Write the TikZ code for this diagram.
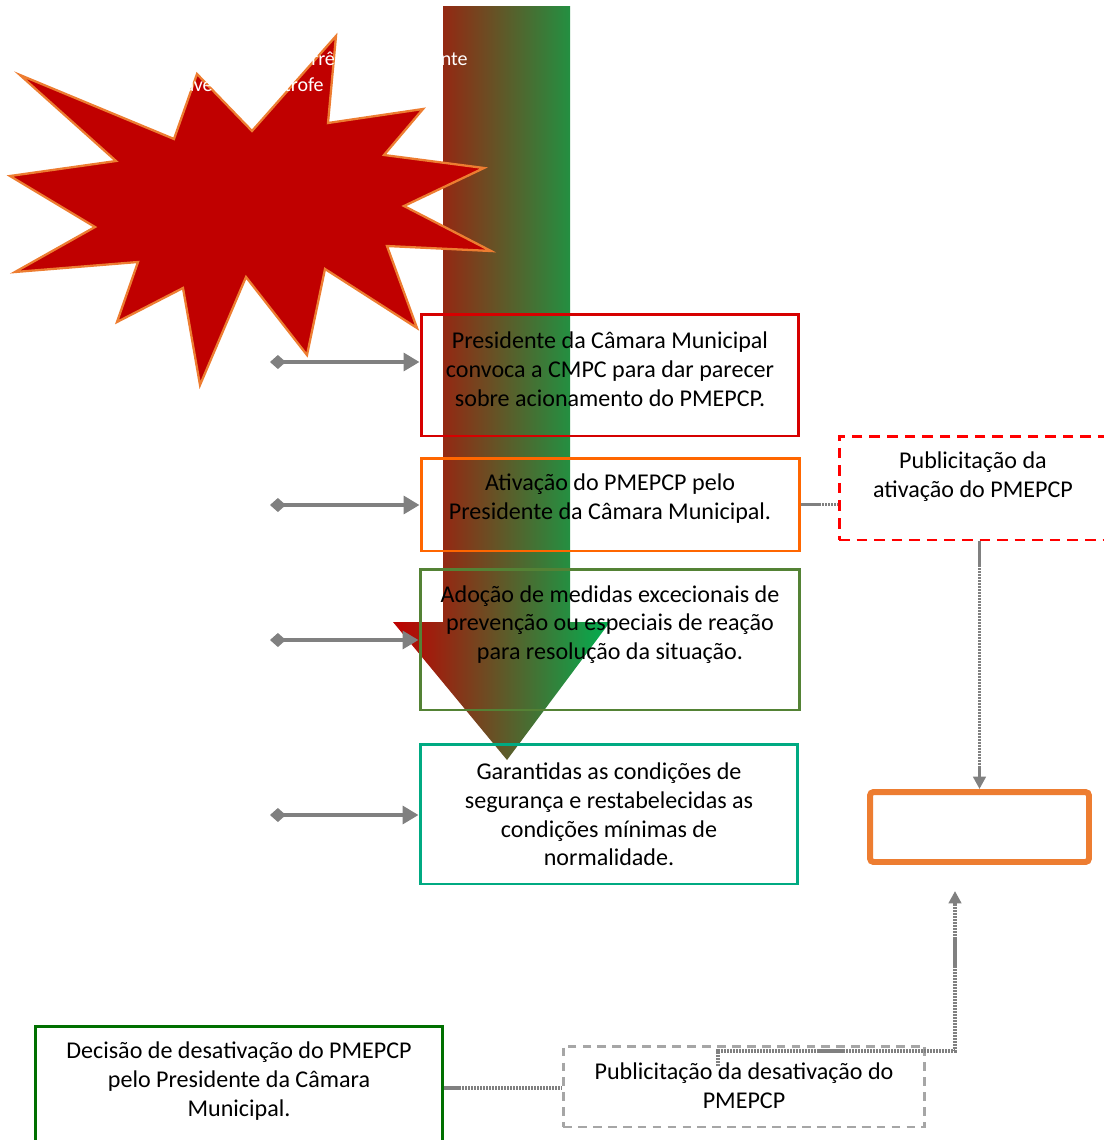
\documentclass[tikz,border=0pt]{standalone}
\usepackage{fontspec}
\setmainfont{Carlito}
\usetikzlibrary{arrows.meta,shadows}

\definecolor{burstred}{RGB}{192,0,0}
\definecolor{burstedge}{RGB}{237,125,49}
\definecolor{flowred}{RGB}{192,0,0}
\definecolor{flowgreen}{RGB}{0,176,80}
\definecolor{cmpcred}{RGB}{214,0,0}
\definecolor{actorange}{RGB}{255,102,0}
\definecolor{measgreen}{RGB}{84,130,53}
\definecolor{safeteal}{RGB}{0,170,130}
\definecolor{pubred}{RGB}{255,0,0}
\definecolor{endorange}{RGB}{237,125,49}
\definecolor{decgreen}{RGB}{0,112,0}
\definecolor{pubgray}{RGB}{166,166,166}
\definecolor{linkgray}{RGB}{128,128,128}

\begin{document}
\begin{tikzpicture}[x=0.02cm, y=-0.02cm,
  stage/.style={draw, line width=1.7pt, inner sep=0pt},
  txt/.style={align=center, font=\fontsize{13.7}{16.4}\selectfont, inner sep=0pt},
  feed/.style={draw=linkgray, line width=2.4pt, {Diamond[length=9pt,width=8pt]}-{Triangle[length=9pt,width=10pt]}},
  link/.style={draw=linkgray, line width=2pt, dash pattern=on 1.2pt off 0.5pt}]
  \useasboundingbox (0,0) rectangle (1103,1140);

  % big arrow from red to green
  \shade[left color=flowred, right color=flowgreen]
    (443,6) -- (570,6) -- (570,622) -- (610,622) -- (507,760) -- (393,622) -- (443,622) -- cycle;

  % stages
  \node[stage, draw=cmpcred, minimum width=7.56cm, minimum height=2.44cm] (cmpc) at (610,375) {};
  \node[txt] at (610,369) {Presidente da Câmara Municipal\\convoca a CMPC para dar parecer\\sobre acionamento do PMEPCP.};
  \node[stage, draw=actorange, minimum width=7.58cm, minimum height=1.86cm] (act) at (610.5,504.5) {};
  \node[txt] at (610,498.5) {Ativação do PMEPCP pelo\\Presidente da Câmara Municipal.};
  \node[stage, draw=measgreen, minimum width=7.6cm, minimum height=2.82cm] (meas) at (610,639.5) {};
  \node[txt] at (610,624.5) {Adoção de medidas excecionais de\\prevenção ou especiais de reação\\para resolução da situação.};
  \node[stage, draw=safeteal, minimum width=7.56cm, minimum height=2.8cm] (safe) at (609,814) {};
  \node[txt] at (609,814.5) {Garantidas as condições de\\segurança e restabelecidas as\\condições mínimas de\\normalidade.};

  % publicitation and end
  \node[stage, draw=pubred, dash pattern=on 6pt off 4pt, minimum width=5.52cm, minimum height=2.08cm] (pubact) at (977,488) {};
  \node[txt] at (973,476.5) {Publicitação da\\ativação do PMEPCP};
  \node[stage, draw=endorange, line width=3.4pt, rounded corners=2pt, fill=white,
    drop shadow={shadow xshift=0pt, shadow yshift=-1.6pt, fill=gray!70, opacity=0.7},
    minimum width=4.38cm, minimum height=1.4cm] (endbox) at (979.5,827) {};
  \node[stage, draw=decgreen, minimum width=8.16cm, minimum height=2.48cm] (dec) at (239,1088) {};
  \node[txt] at (239,1081) {Decisão de desativação do PMEPCP\\pelo Presidente da Câmara\\Municipal.};
  \node[stage, draw=pubgray, dash pattern=on 5pt off 3.5pt, minimum width=7.24cm, minimum height=1.62cm] (pubdes) at (744,1086.5) {};
  \node[txt] at (744,1086) {Publicitação da desativação do\\PMEPCP};

  % side arrows
  \coordinate (f1) at (270,362);
  \coordinate (f2) at (270,505);
  \coordinate (f3) at (270,640);
  \coordinate (f4) at (270,815);
  \draw[feed] (f1) -- (f1 -| cmpc.west);
  \draw[feed] (f2) -- (f2 -| act.west);
  \draw[feed] (f3) -- (f3 -| meas.west);
  \draw[feed] (f4) -- (f4 -| safe.west);

  % dotted links
  \draw[link] (act.east) -- (act.east -| pubact.west);
  \draw[link, -{Triangle[length=7pt,width=7pt]}] (endbox.north |- pubact.south) -- (endbox.north);
  \draw[link] (dec.east) -- (dec.east -| pubdes.west);
  \coordinate (pd) at (718,1066);
  \coordinate (turn) at (955,1051);
  \coordinate (up) at (955,891);
  \draw[link, -{Triangle[length=7pt,width=7pt]}] (pd) |- (turn) -- (up);

  % starburst
  \draw[fill=burstred, draw=burstedge, line width=1.3pt, line join=miter]
    (20,75) -- (174,139) -- (197,74) -- (252,131) -- (336,36) -- (328,123)
    -- (423,109) -- (384,155) -- (484,168) -- (404,206) -- (491,251) -- (387,246)
    -- (417,328) -- (325,269) -- (307,355) -- (246,277) -- (200,385) -- (183,288)
    -- (117,322) -- (138,262) -- (15,272) -- (95,227) -- (10,176) -- (116,161) -- cycle;
  \node[txt, text=white, font=\fontsize{11.4}{14.7}\selectfont] (event) at (261,73)
    {Ocorrência ou iminência de ocorrência de acidente\\grave ou catástrofe\hspace*{17pt}};
\end{tikzpicture}
\end{document}
